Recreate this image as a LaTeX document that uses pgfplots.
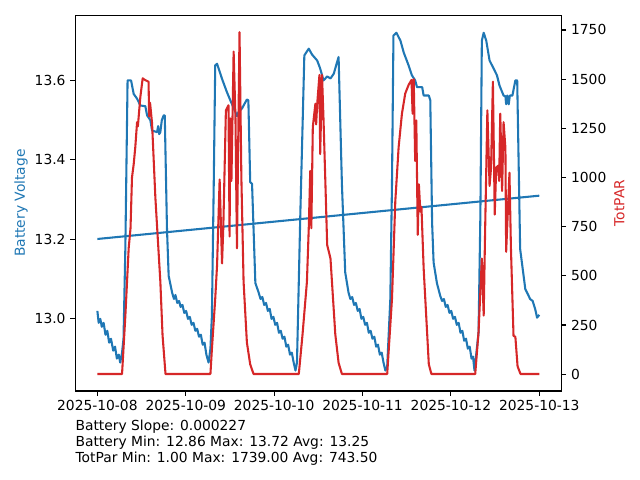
\documentclass[border=0pt]{standalone}
\usepackage{pgfplots}
\pgfplotsset{compat=1.18}
\usepackage{pgfplotstable}
\usepackage{fontspec}
\setmainfont{DejaVu Sans}
\definecolor{mplblue}{HTML}{1F77B4}
\definecolor{mplred}{HTML}{D62728}

\pgfplotstableread{
h v
0 13.02
0.35 12.99
0.8 13.00
1.2 12.98
1.7 12.99
2.2 12.96
2.7 12.97
3.2 12.94
3.7 12.95
4.3 12.92
4.8 12.93
5.3 12.90
5.8 12.91
6.2 12.89
6.7 12.915
7.1 12.95
7.6 13.18
8.2 13.60
9.15 13.60
9.86 13.566
10.78 13.554
11.67 13.537
13.03 13.535
13.5 13.512
14.39 13.50
14.85 13.474
16.2 13.47
16.5 13.485
16.8 13.465
17.1 13.47
17.5 13.50
18.0 13.512
18.3 13.512
18.9 13.227
19.36 13.108
20.3 13.066
20.8 13.05
21.2 13.06
21.7 13.04
22.2 13.045
22.6 13.03
23.1 13.035
23.6 13.015
24.1 13.02
24.6 13.00
25.1 13.005
25.6 12.985
26.1 12.99
26.6 12.97
27.1 12.975
27.6 12.955
28.1 12.96
28.6 12.935
29.1 12.94
29.6 12.91
30.2 12.89
30.7 12.925
31.1 13.008
31.6 13.34
32.0 13.638
32.5 13.642
33.85 13.604
35.2 13.57
36.1 13.55
37.5 13.52
37.9 13.51
38.3 13.52
39.3 13.53
40.6 13.552
41.0 13.55
41.5 13.344
42.0 13.34
42.9 13.09
43.8 13.066
44.3 13.05
44.8 13.055
45.3 13.035
45.8 13.04
46.3 13.02
46.8 13.025
47.3 13.0
47.8 13.005
48.3 12.985
48.8 12.99
49.3 12.965
49.8 12.97
50.3 12.95
50.8 12.955
51.3 12.93
51.8 12.935
52.3 12.91
52.8 12.915
53.3 12.89
53.8 12.87
54.2 12.89
55.1 13.26
56.2 13.663
57.4 13.68
58.3 13.665
59.7 13.65
60.5 13.63
61.4 13.60
62.4 13.61
63.3 13.605
64.2 13.617
64.9 13.64
65.5 13.659
66.4 13.34
67.3 13.117
68.2 13.066
68.7 13.05
69.2 13.055
69.7 13.035
70.2 13.04
70.7 13.02
71.2 13.025
71.7 13.0
72.2 13.005
72.7 12.985
73.2 12.99
73.7 12.965
74.2 12.97
74.7 12.95
75.2 12.955
75.7 12.93
76.2 12.935
76.7 12.91
77.2 12.915
77.7 12.89
78.2 12.87
78.7 12.88
79.55 13.05
80.0 13.34
80.4 13.713
81.2 13.72
82.3 13.70
83.2 13.67
84.5 13.638
85.4 13.613
86.3 13.60
86.8 13.583
88.2 13.583
88.6 13.562
90.0 13.562
90.4 13.55
90.9 13.24
91.3 13.142
92.2 13.09
93.1 13.058
93.6 13.045
94.1 13.05
94.6 13.03
95.1 13.035
95.6 13.015
96.1 13.02
96.6 13.0
97.1 13.005
97.6 12.985
98.1 12.99
98.6 12.965
99.1 12.97
99.6 12.945
100.1 12.95
100.6 12.925
101.1 12.93
101.6 12.9
102.0 12.905
102.4 12.87
103.5 12.965
104.0 13.26
104.4 13.70
104.9 13.72
105.6 13.70
106.5 13.65
107.6 13.63
108.5 13.613
109.2 13.587
110.3 13.562
110.8 13.56
111.0 13.54
111.3 13.562
111.7 13.54
112.0 13.562
112.7 13.562
113.5 13.60
114.0 13.60
114.8 13.176
116.2 13.075
117.0 13.06
117.5 13.05
118.2 13.045
118.9 13.024
119.4 13.003
120.0 13.01
}\battery

\pgfplotstableread{
h p
0 1
6.7 1
7.6 297
8.5 640
9.0 742
9.4 1000
9.86 1067
10.3 1155
10.78 1281
11.0 1260
11.67 1410
12.3 1504
13.0 1495
13.9 1487
14.05 1310
14.3 1380
14.85 1276
15.75 897
17.1 470
17.7 197
18.5 1
30.7 1
31.1 127
32.0 383
32.5 554
33.2 990
33.85 563
34.2 750
34.9 1341
35.6 1367
35.9 700
36.1 1300
36.4 982
37.0 1640
37.5 1300
37.9 640
38.6 1739
39.1 1000
39.7 470
40.6 161
41.5 50
42.4 1
54.7 1
55.7 200
56.9 470
57.4 742
57.8 1033
58.1 742
58.5 1256
59.2 1375
59.4 1270
59.7 1375
60.3 1521
60.5 1119
61.0 1521
61.4 1300
61.9 982
62.4 657
63.3 588
64.6 204
65.5 58
66.4 1
78.7 1
80.0 383
80.9 879
81.8 1153
82.7 1324
83.6 1427
84.5 1470
85.3 1496
85.6 1324
85.9 1500
86.3 1084
86.6 1290
87.0 708
87.3 965
87.7 827
88.0 850
88.6 537
90.0 50
90.7 1
102.6 1
103.5 213
104.4 588
104.9 298
105.3 742
105.9 1341
106.5 957
106.9 1050
107.4 1487
107.9 811
108.3 1050
108.8 1060
109.1 982
109.4 1324
109.9 931
110.3 1281
110.8 1150
111.0 622
111.4 800
111.9 1024
112.3 640
113.0 195
113.5 190
114.1 40
114.9 1
120.0 1
}\partable

\pgfplotstableread{
h v
0 13.201
120 13.310
}\trend

\begin{document}
\begin{tikzpicture}
\useasboundingbox (-54.2bp,-64.1bp) rectangle (406.6bp,281.5bp);
\pgfplotsset{
  every axis/.append style={
    scale only axis,
    width=350bp, height=270.5bp,
    at={(0,0)}, anchor=south west,
    xmin=-6, xmax=126,
    tick align=outside,
    major tick length=3.5pt,
    tick style={black, line width=0.8pt},
    axis line style={line width=0.8pt},
    tick label style={font=\fontsize{10}{12}\selectfont},
    label style={font=\fontsize{10}{12}\selectfont},
    /pgf/number format/assume math mode=true,
  }
}
\begin{axis}[
  ymin=12.8185, ymax=13.764,
  xtick={0,24,48,72,96,120},
  xticklabels={2025-10-08,2025-10-09,2025-10-10,2025-10-11,2025-10-12,2025-10-13},
  xtick pos=bottom,
  ytick={13.0,13.2,13.4,13.6},
  ytick pos=left,
  yticklabel style={/pgf/number format/fixed, /pgf/number format/fixed zerofill, /pgf/number format/precision=1},
  ylabel={Battery Voltage},
  ylabel style={mplblue, at={(axis description cs:-0.1113,0.5)}, anchor=center},
]
\addplot[mplblue, line width=1.5pt, line join=round] table[x=h, y=v] {\battery};
\addplot[mplblue, line width=1.5pt] table[x=h, y=v] {\trend};
\end{axis}
\begin{axis}[
  ymin=-85.4, ymax=1824.6,
  axis x line=none,
  axis y line*=right,
  ytick={0,250,500,750,1000,1250,1500,1750},
  yticklabel style={/pgf/number format/1000 sep={}},
  ylabel={TotPAR},
  ylabel style={mplred, at={(axis description cs:1.1196,0.5)}, anchor=center},
]
\addplot[mplred, line width=1.5pt, line join=round] table[x=h, y=p] {\partable};
\end{axis}
\node[anchor=west, inner sep=0pt, font=\fontsize{10}{12}\selectfont] at (0,-25.9bp) {Battery Slope: 0.000227};
\node[anchor=west, inner sep=0pt, font=\fontsize{10}{12}\selectfont] at (0,-37.4bp) {Battery Min: 12.86 Max: 13.72 Avg: 13.25};
\node[anchor=west, inner sep=0pt, font=\fontsize{10}{12}\selectfont] at (0,-48.9bp) {TotPar Min: 1.00 Max: 1739.00 Avg: 743.50};
\end{tikzpicture}
\end{document}
